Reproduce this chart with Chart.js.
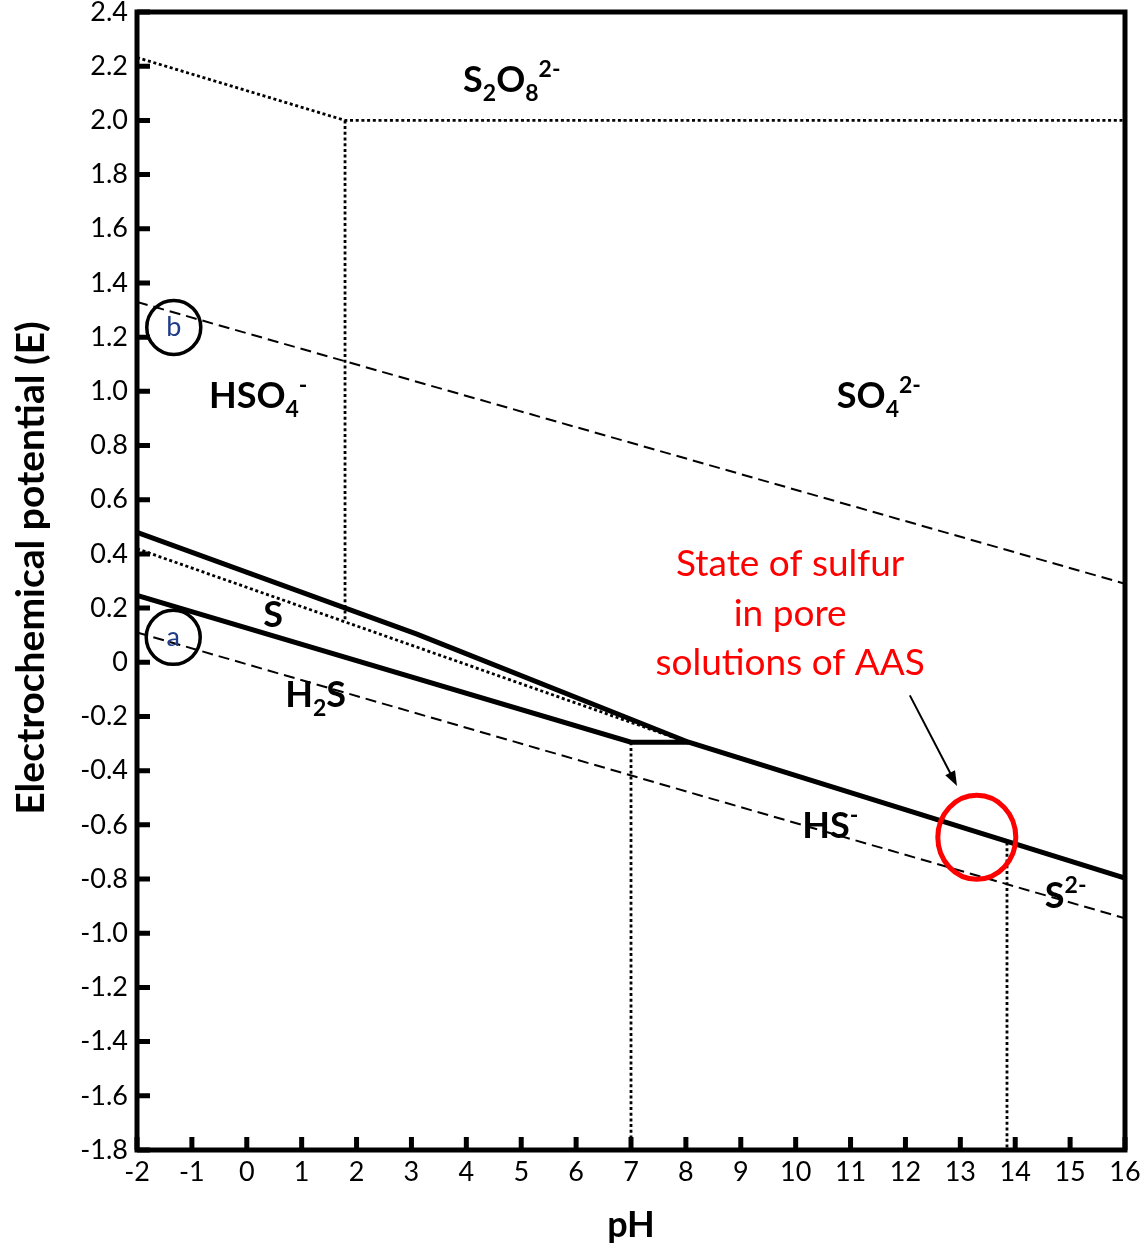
<!DOCTYPE html>
<html>
<head>
<meta charset="utf-8">
<script src="https://cdn.jsdelivr.net/npm/chart.js@4.4.1/dist/chart.umd.min.js"></script>
<style>
  html, body { margin: 0; padding: 0; background: #fff; }
</style>
</head>
<body>
<canvas id="pourbaix" width="1148" height="1247"></canvas>
<script>
// tick labels
const xTicks = [-2, -1, 0, 1, 2, 3, 4, 5, 6, 7, 8, 9, 10, 11, 12, 13, 14, 15, 16];
const yTicks = [-1.8, -1.6, -1.4, -1.2, -1.0, -0.8, -0.6, -0.4, -0.2, 0, 0.2, 0.4, 0.6, 0.8, 1.0, 1.2, 1.4, 1.6, 1.8, 2.0, 2.2, 2.4];

// solid boundaries (pH, E)
const upperPH = [-2, 3.1, 8.05, 16];
const upperE = [0.48, 0.104, -0.295, -0.797];
const lowerPH = [-2, 7, 8.05];
const lowerE = [0.247, -0.295, -0.295];

// dotted boundaries
const sulfurDotPH = [-2, 8];
const sulfurDotE = [0.419, -0.293];
const persulfPH = [-2, 1.79, 16];
const persulfE = [2.232, 2.0, 2.0];
const bisulfVertPH = [1.79, 1.79];
const bisulfVertE = [2.0, 0.15];
const hsVertPH = [7, 7];
const hsVertE = [-0.295, -1.8];
const s2VertPH = [13.85, 13.85];
const s2VertE = [-0.665, -1.8];

// water stability lines (dashed)
const waterPH = [-2, 16];
const oxygenE = [1.33, 0.29];
const hydrogenE = [0.11, -0.945];

const pts = (xs, ys) => xs.map((x, i) => ({ x: x, y: ys[i] }));

const TICK_FONT = { family: 'Lato', size: 27 };
const solid = { borderColor: '#000', borderWidth: 5, borderDash: [] };
const dotted = { borderColor: '#000', borderWidth: 2.8, borderDash: [3, 2.7] };
const dashed = { borderColor: '#000', borderWidth: 2, borderDash: [11, 6] };

const line = (xs, ys, style) => Object.assign({
    data: pts(xs, ys),
    showLine: true,
    pointRadius: 0,
    fill: false,
    tension: 0
}, style);

// text + shapes placed in data coordinates
const chemLabels = [
    { pH: 3.94, E: 2.103, parts: [['S', 'n'], ['2', 'sub'], ['O', 'n'], ['8', 'sub'], ['2-', 'sup']] },
    { pH: 10.75, E: 0.937, parts: [['SO', 'n'], ['4', 'sub'], ['2-', 'sup']] },
    { pH: -0.69, E: 0.937, parts: [['HSO', 'n'], ['4', 'sub'], ['-', 'sup']] },
    { pH: 0.30, E: 0.129, parts: [['S', 'n']] },
    { pH: 0.70, E: -0.166, parts: [['H', 'n'], ['2', 'sub'], ['S', 'n']] },
    { pH: 10.12, E: -0.649, parts: [['HS', 'n'], ['-', 'sup']] },
    { pH: 14.54, E: -0.908, parts: [['S', 'n'], ['2-', 'sup']] }
];

function drawChem(ctx, parts, x, y, size) {
    let cx = x;
    parts.forEach(([t, kind]) => {
        const s = kind === 'n' ? size : Math.round(size * 0.64);
        const dy = kind === 'sub' ? size * 0.24 : kind === 'sup' ? -size * 0.42 : 0;
        ctx.font = `bold ${s}px Lato`;
        ctx.fillText(t, cx, y + dy);
        cx += ctx.measureText(t).width;
    });
}

const decorations = {
    id: 'decorations',
    afterDatasetsDraw(chart) {
        const { ctx, chartArea: a, scales: { x, y } } = chart;
        const px = v => x.getPixelForValue(v);
        const py = v => y.getPixelForValue(v);
        ctx.save();

        // frame
        ctx.strokeStyle = '#000';
        ctx.lineWidth = 5;
        ctx.strokeRect(a.left, a.top, a.right - a.left, a.bottom - a.top);

        // inward tick marks
        ctx.lineWidth = 5;
        ctx.beginPath();
        yTicks.forEach(v => {
            ctx.moveTo(a.left, py(v));
            ctx.lineTo(a.left + 13, py(v));
        });
        xTicks.forEach(v => {
            ctx.moveTo(px(v), a.bottom);
            ctx.lineTo(px(v), a.bottom - 13);
        });
        ctx.stroke();

        // y axis title
        ctx.save();
        ctx.translate(31, 568);
        ctx.rotate(-Math.PI / 2);
        ctx.fillStyle = '#000';
        ctx.font = 'bold 39px Lato';
        ctx.textAlign = 'center';
        ctx.textBaseline = 'middle';
        ctx.fillText('Electrochemical potential (E)', 0, 0);
        ctx.restore();

        // species labels
        ctx.fillStyle = '#000';
        ctx.textAlign = 'left';
        ctx.textBaseline = 'alphabetic';
        chemLabels.forEach(l => drawChem(ctx, l.parts, px(l.pH), py(l.E), 36));

        // a / b markers
        [['b', -1.33, 1.236], ['a', -1.34, 0.092]].forEach(([t, ph, e]) => {
            ctx.beginPath();
            ctx.lineWidth = 3.5;
            ctx.strokeStyle = '#000';
            ctx.arc(px(ph), py(e), 27, 0, Math.PI * 2);
            ctx.stroke();
            ctx.fillStyle = '#1f3c88';
            ctx.font = '27px Lato';
            ctx.textAlign = 'center';
            ctx.textBaseline = 'middle';
            ctx.fillText(t, px(ph), py(e));
        });

        // red ellipse
        ctx.beginPath();
        ctx.strokeStyle = '#ff0000';
        ctx.lineWidth = 5;
        ctx.ellipse(px(13.3), py(-0.646), 39, 42, 0, 0, Math.PI * 2);
        ctx.stroke();

        // red note
        ctx.fillStyle = '#ff0000';
        ctx.font = '37px Lato';
        ctx.textAlign = 'center';
        ctx.textBaseline = 'middle';
        ctx.fillText('State of sulfur', px(9.9), py(0.362));
        ctx.fillText('in pore', px(9.9), py(0.178));
        ctx.fillText('solutions of AAS', px(9.9), py(-0.003));

        // arrow
        const x0 = px(12.08), y0 = py(-0.122), x1 = px(12.94), y1 = py(-0.457);
        const ang = Math.atan2(y1 - y0, x1 - x0);
        ctx.strokeStyle = '#000';
        ctx.fillStyle = '#000';
        ctx.lineWidth = 2;
        ctx.beginPath();
        ctx.moveTo(x0, y0);
        ctx.lineTo(x1 - 10 * Math.cos(ang), y1 - 10 * Math.sin(ang));
        ctx.stroke();
        ctx.beginPath();
        ctx.moveTo(x1, y1);
        ctx.lineTo(x1 - 15 * Math.cos(ang) + 5.5 * Math.sin(ang), y1 - 15 * Math.sin(ang) - 5.5 * Math.cos(ang));
        ctx.lineTo(x1 - 15 * Math.cos(ang) - 5.5 * Math.sin(ang), y1 - 15 * Math.sin(ang) + 5.5 * Math.cos(ang));
        ctx.closePath();
        ctx.fill();

        ctx.restore();
    }
};

new Chart(document.getElementById('pourbaix'), {
    type: 'scatter',
    data: {
        datasets: [
            line(upperPH, upperE, solid),
            line(lowerPH, lowerE, solid),
            line(sulfurDotPH, sulfurDotE, dotted),
            line(persulfPH, persulfE, dotted),
            line(bisulfVertPH, bisulfVertE, dotted),
            line(hsVertPH, hsVertE, dotted),
            line(s2VertPH, s2VertE, dotted),
            line(waterPH, oxygenE, dashed),
            line(waterPH, hydrogenE, dashed)
        ]
    },
    options: {
        responsive: false,
        animation: false,
        devicePixelRatio: 1,
        layout: { padding: { top: 12, right: 23, left: 0, bottom: 0 } },
        plugins: {
            legend: { display: false },
            tooltip: { enabled: false }
        },
        scales: {
            x: {
                type: 'linear',
                min: -2,
                max: 16,
                afterBuildTicks: scale => { scale.ticks = xTicks.map(v => ({ value: v })); },
                afterFit: scale => {
                    scale.height = 97;
                    scale.paddingLeft = 0;
                    scale.paddingRight = 0;
                },
                grid: { display: false, drawTicks: false },
                border: { display: false },
                ticks: {
                    font: TICK_FONT,
                    color: '#000',
                    padding: 6,
                    maxRotation: 0,
                    autoSkip: false,
                    callback: v => String(v)
                },
                title: {
                    display: true,
                    text: 'pH',
                    color: '#000',
                    font: { family: 'Lato', weight: 'bold', size: 36, lineHeight: 1.2 },
                    padding: { top: 0, bottom: 0 }
                }
            },
            y: {
                type: 'linear',
                min: -1.8,
                max: 2.4,
                afterBuildTicks: scale => { scale.ticks = yTicks.map(v => ({ value: v })); },
                afterFit: scale => {
                    scale.width = 137;
                    scale.paddingTop = 0;
                    scale.paddingBottom = 0;
                },
                grid: { display: false, drawTicks: false },
                border: { display: false },
                ticks: {
                    font: TICK_FONT,
                    color: '#000',
                    padding: 9,
                    autoSkip: false,
                    callback: v => (v === 0 ? '0' : v.toFixed(1))
                },
                title: { display: false }
            }
        }
    },
    plugins: [decorations]
});
</script>
</body>
</html>
